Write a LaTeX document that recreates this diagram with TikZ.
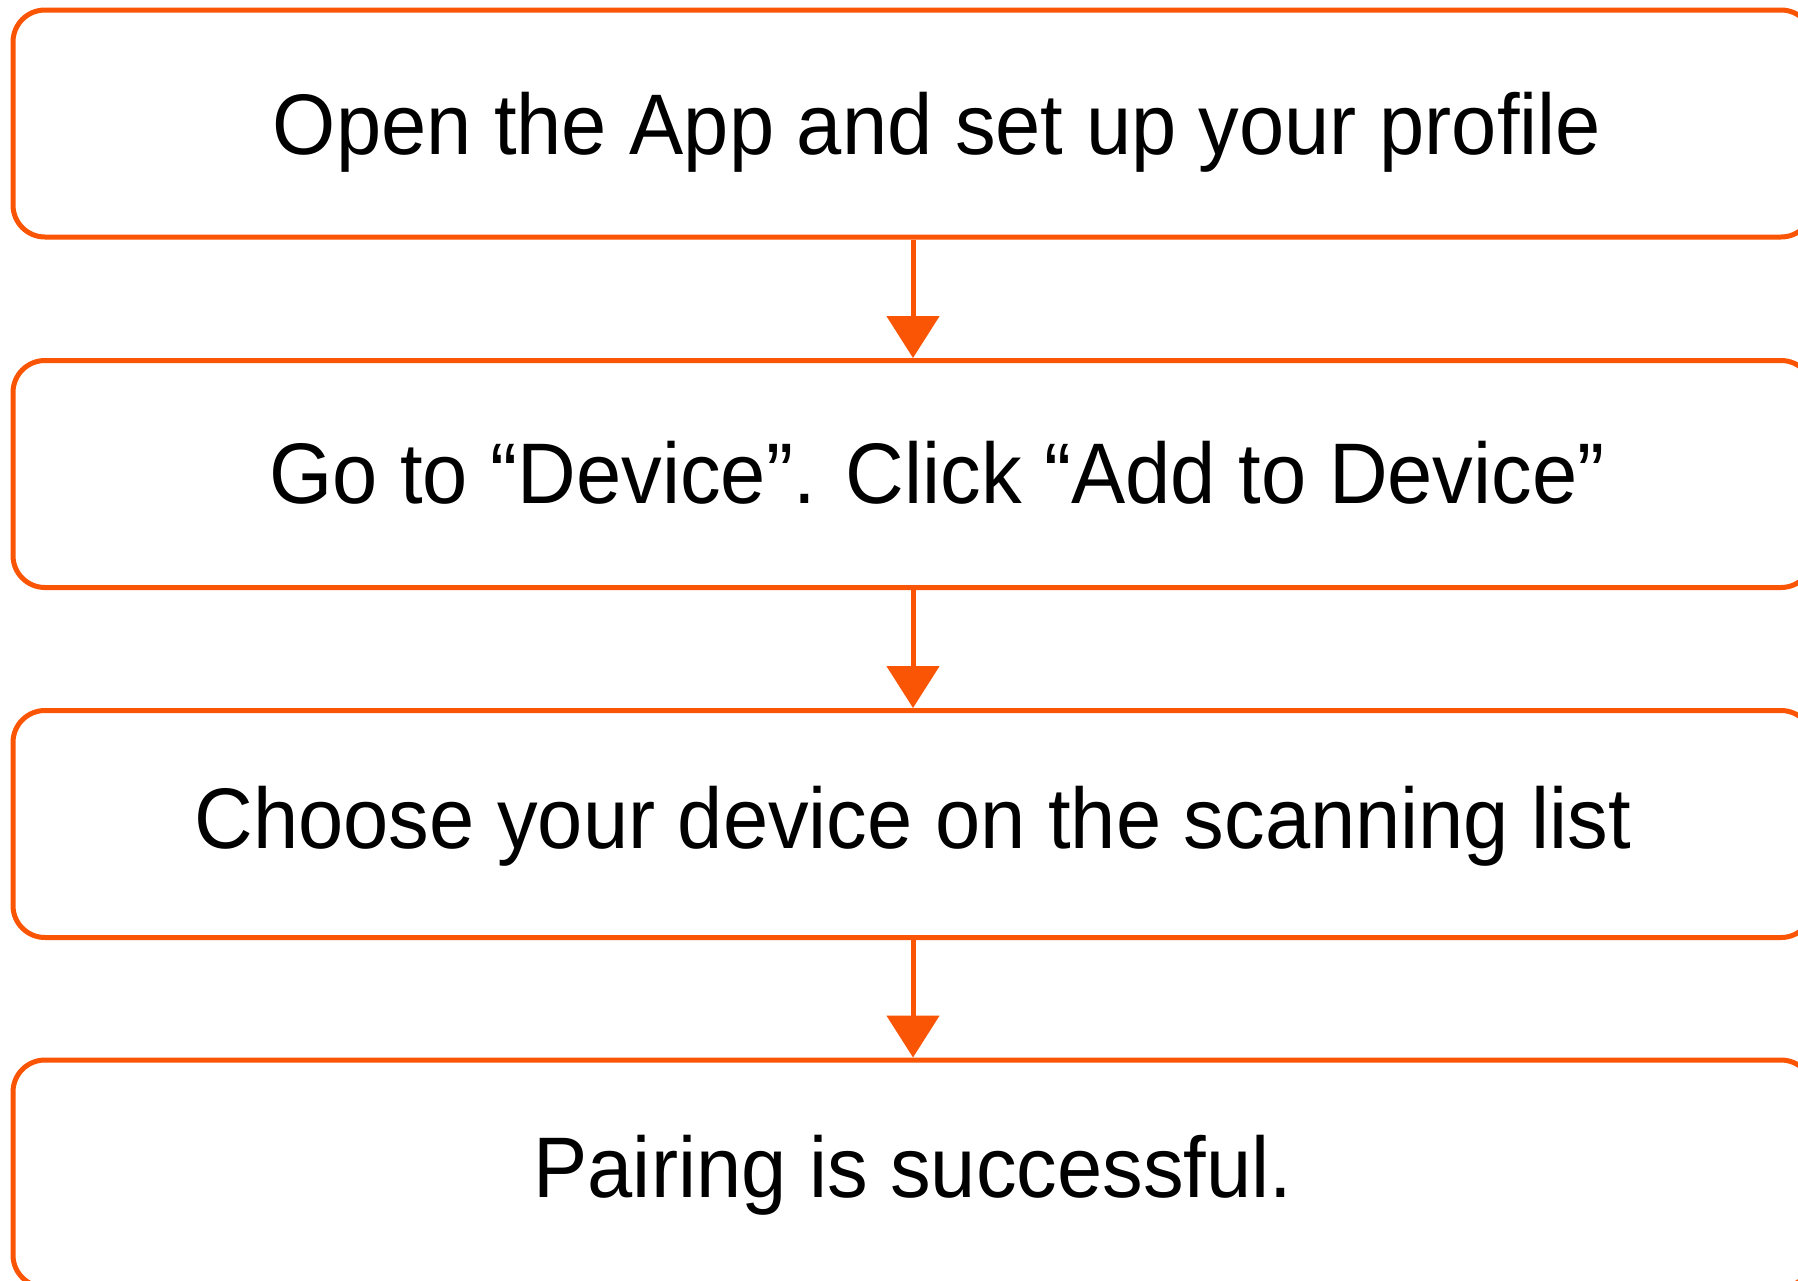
\documentclass[tikz,border=0pt]{standalone}
\usepackage{fontspec}
\setmainfont{Liberation Sans}[FakeStretch=0.945]
\usetikzlibrary{arrows.meta}
\definecolor{orng}{RGB}{250,84,5}
\tikzset{
  stepbox/.style={draw=orng, line width=5pt, rounded corners=32pt, minimum width=1800pt, minimum height=227pt, inner sep=0pt, text height=62pt, text depth=0pt, font=\fontsize{86}{100}\selectfont, text=black},
  flow/.style={draw=orng, line width=5pt, -{Triangle[width=52pt,length=42pt]}, orng}
}
\begin{document}
\begin{tikzpicture}[x=1pt,y=-1pt]
\useasboundingbox (0,0) rectangle (1798,1280);
\clip (0,0) rectangle (1798,1280);
\node[stepbox] (s1) at (913,123.5) {\hspace*{48pt}Open the App and set up your profile};
\node[stepbox] (s2) at (913,474) {\hspace*{48pt}\raisebox{1.5pt}{Go to “Device”. Click “Add to Device”}};
\node[stepbox] (s3) at (913,824) {\raisebox{7pt}{Choose your device on the scanning list}};
\node[stepbox] (s4) at (913,1173.5) {\raisebox{7pt}{Pairing is successful.}};
\draw[flow] (s1.south) -- (s2.north);
\draw[flow] (s2.south) -- (s3.north);
\draw[flow] (s3.south) -- (s4.north);
\end{tikzpicture}
\end{document}
